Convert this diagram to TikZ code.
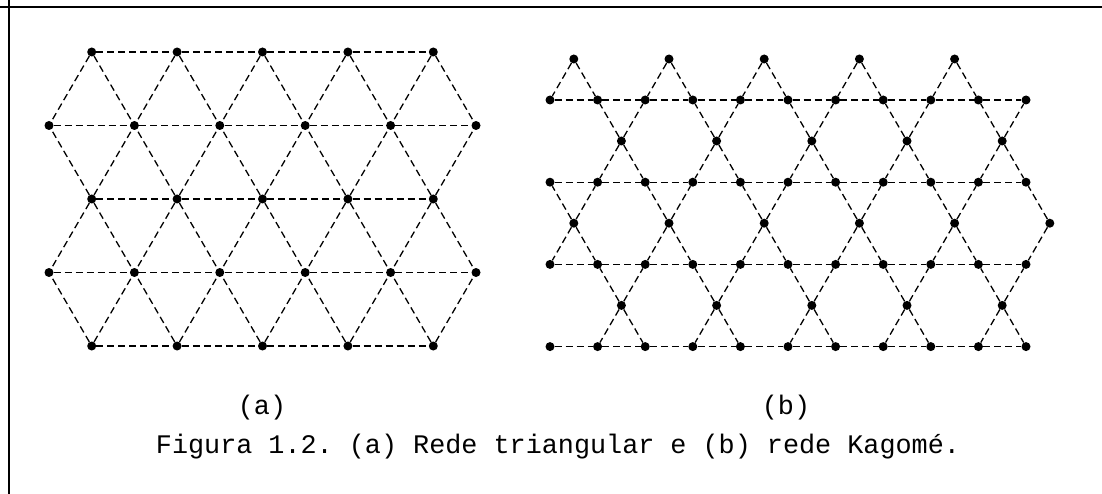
\documentclass[tikz,border=0pt]{standalone}
\usepackage{fontspec}
\setmonofont{Liberation Mono}

\begin{document}
\begin{tikzpicture}[x=1pt,y=-1pt,
    site/.style={fill=black,inner sep=0,minimum size=9pt,circle},
    bond/.style={dash pattern=on 7pt off 4pt,line width=1.3pt},
    tag/.style={font=\fontsize{26.8}{31}\selectfont\ttfamily}]
  \useasboundingbox (0,0) rectangle (1102,494);
  \draw [line width=2.5pt] (0,7) -- (1102,7);
  \draw [line width=2.5pt] (9,0) -- (9,494);

  % (a) triangular lattice
  \foreach \r in {0,...,4} {
    \pgfmathtruncatemacro{\odd}{mod(\r,2)}
    \pgfmathtruncatemacro{\last}{4+\odd}
    \foreach \c in {0,...,\last}
      \node [site] (t\r\c) at ({91.7-42.7*\odd+85.4*\c}, {52+73.5*\r}) {};
  }
  \foreach \r in {0,...,4} {
    \pgfmathtruncatemacro{\last}{3+mod(\r,2)}
    \foreach \c in {0,...,\last} {
      \pgfmathtruncatemacro{\n}{\c+1}
      \draw [bond] (t\r\c) -- (t\r\n);
    }
  }
  \foreach \r/\s in {0/1,2/1,2/3,4/3}
    \foreach \c in {0,...,4} {
      \pgfmathtruncatemacro{\n}{\c+1}
      \draw [bond] (t\r\c) -- (t\s\c) (t\r\c) -- (t\s\n);
    }

  % (b) Kagome lattice
  \foreach \j in {1,...,4}
    \foreach \i in {0,...,10}
      \node [site] (k\j-\i) at ({550+47.6*\i}, {100+82.2*(\j-1)}) {};
  \foreach \m in {0,...,4}
    \node [site] (kt-\m) at ({573.8+95.2*\m}, 59) {};
  \foreach \j/\o/\last in {1/71.4/4, 2/23.8/5, 3/71.4/4}
    \foreach \m in {0,...,\last}
      \node [site] (km\j-\m) at ({550+\o+95.2*\m}, {141+82.2*(\j-1)}) {};

  \foreach \j in {1,...,4}
    \foreach \i in {0,...,9} {
      \pgfmathtruncatemacro{\n}{\i+1}
      \draw [bond] (k\j-\i) -- (k\j-\n);
    }
  \foreach \m in {0,...,4} {
    \pgfmathtruncatemacro{\a}{2*\m}
    \pgfmathtruncatemacro{\b}{2*\m+1}
    \draw [bond] (kt-\m) -- (k1-\a) (kt-\m) -- (k1-\b);
  }
  \foreach \j/\s/\last in {1/1/4, 2/0/5, 3/1/4}
    \foreach \m in {0,...,\last} {
      \pgfmathtruncatemacro{\a}{2*\m+\s}
      \pgfmathtruncatemacro{\b}{min(2*\m+\s+1,10)}
      \pgfmathtruncatemacro{\J}{\j+1}
      \draw [bond] (km\j-\m) -- (k\j-\a) (km\j-\m) -- (k\j-\b)
                   (km\j-\m) -- (k\J-\a) (km\j-\m) -- (k\J-\b);
    }

  \node [tag] (capa) at (262,408) {(a)};
  \node [tag] (capb) at (786,408) {(b)};
  \node [tag] (caption) at (558,447) {Figura 1.2. (a) Rede triangular e (b) rede Kagomé.};
\end{tikzpicture}
\end{document}
